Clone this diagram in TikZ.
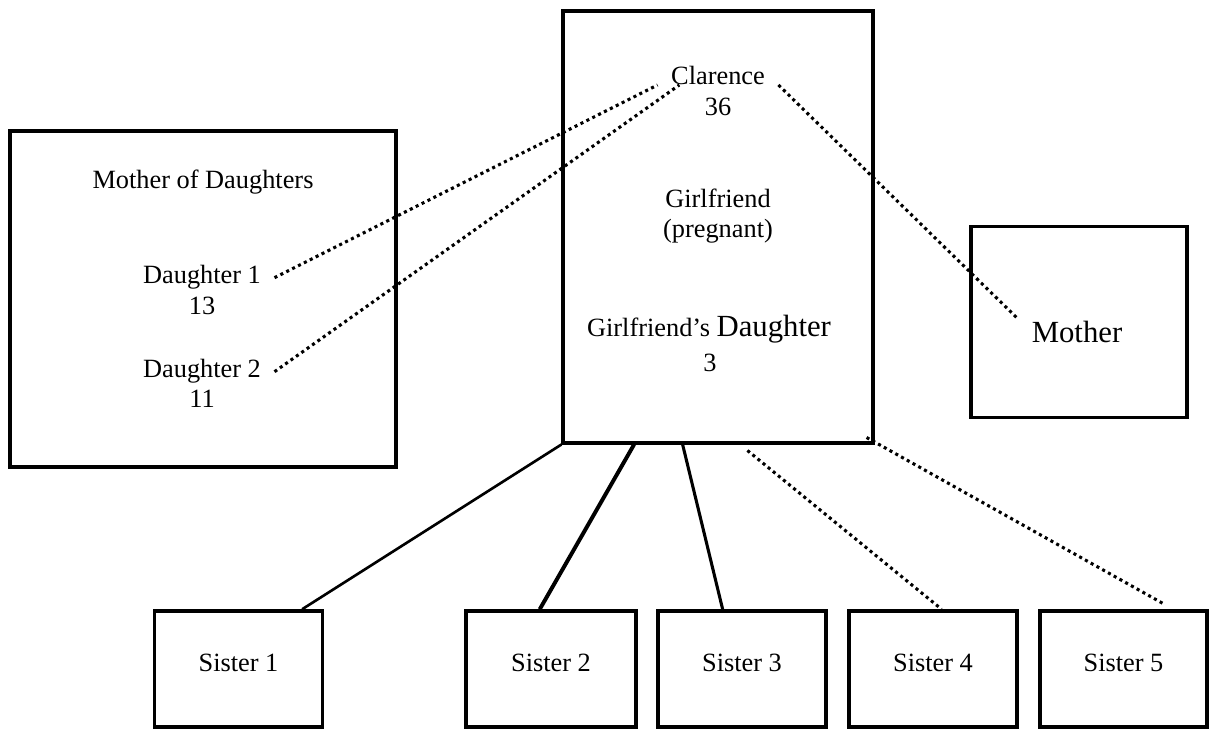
\documentclass[tikz,border=0pt]{standalone}
\usepackage{fontspec}
\setmainfont{Liberation Serif}
\usetikzlibrary{calc}

\begin{document}
\begin{tikzpicture}[x=0.016cm, y=-0.016cm,
  box/.style={draw, line width=1.5pt, inner sep=0pt},
  lbl/.style={font=\fontsize{12}{14}\selectfont, anchor=base, inner xsep=6pt, inner ysep=1pt},
  big/.style={lbl, font=\fontsize{14}{16}\selectfont},
  tie/.style={line width=1.2pt},
  dotline/.style={line width=1.4pt, dash pattern=on 1.4pt off 1.6pt}]

  \useasboundingbox (0,0) rectangle (1213,731);

  % Boxes
  \node[box, minimum width=6.18cm, minimum height=5.38cm] (mod) at (203,299) {};
  \node[box, minimum width=4.96cm, minimum height=6.91cm] (gf) at (718,227) {};
  \node[box, minimum width=3.46cm, minimum height=3.06cm] (mom) at (1079,322) {};

  % Sisters
  \foreach \i/\x/\w in {1/238.5/2.70, 2/551/2.72, 3/742/2.69, 4/933/2.69, 5/1123.5/2.67} {
    \node[box, minimum width=\w cm, minimum height=1.86cm] (s\i) at (\x,669) {};
    \node[lbl] (s\i t) at (\x,671) {Sister \i};
  }

  % Left box texts
  \node[lbl] (modt) at (203,189) {Mother of Daughters};
  \node[lbl] (d1) at (202,284) {Daughter 1};
  \node[lbl] (d1n) at (202,315) {13};
  \node[lbl] (d2) at (202,378) {Daughter 2};
  \node[lbl] (d2n) at (202,408) {11};

  % Center box texts
  \node[lbl] (clar) at (718,85) {Clarence};
  \node[lbl] (clarn) at (718,116) {36};
  \node[lbl] (gft) at (718,208) {Girlfriend};
  \node[lbl] (preg) at (718,238) {(pregnant)};
  \node[lbl] (gfd) at (709,337) {Girlfriend’s {\fontsize{14}{16}\selectfont Daughter}};
  \node[lbl] (gfdn) at (710,372) {3};

  % Right box text
  \node[big] (momt) at (1077,343) {Mother};

  % Ties to Clarence
  \draw[dotline] (d1.east) -- (clar.base west);
  \draw[dotline] (d2.east) -- ($(clar.base west)!0.18!(clar.base east)$);
  \draw[dotline] (clar.base east) -- (momt.north west);

  % Ties to sisters
  \draw[tie] (gf.south west) -- ($(s1.north west)!0.87!(s1.north east)$);
  \draw[tie, line width=1.8pt] ($(gf.south west)!0.232!(gf.south east)$) -- ($(s2.north west)!0.435!(s2.north east)$);
  \draw[tie, line width=1.4pt] ($(gf.south west)!0.387!(gf.south east)$) -- ($(s3.north west)!0.387!(s3.north east)$);
  \draw[dotline] ($(gf.south west)!0.594!(gf.south east)+(0,6)$) -- ($(s4.north west)!0.55!(s4.north east)$);
  \draw[dotline] ($(gf.south east)+(-8,-7)$) -- ($(s5.north west)!0.74!(s5.north east)+(0,-5)$);
\end{tikzpicture}
\end{document}
